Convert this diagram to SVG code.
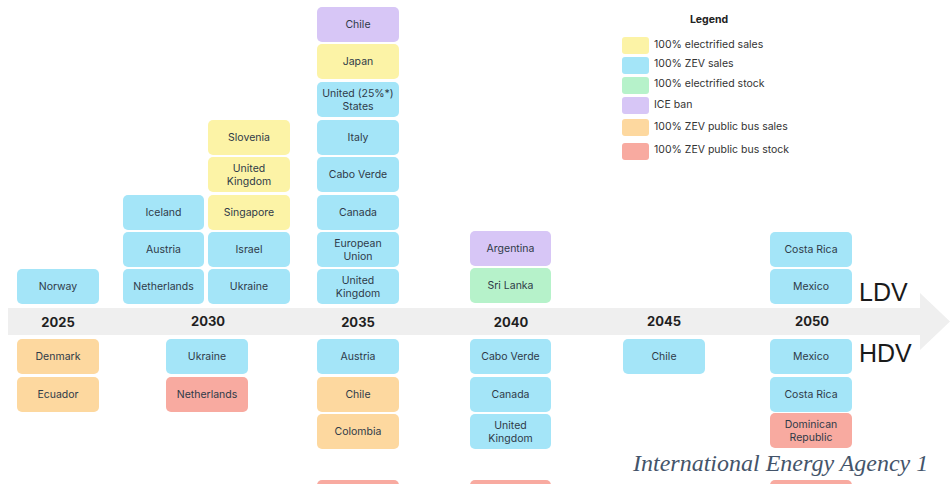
<svg xmlns="http://www.w3.org/2000/svg" width="952" height="484" viewBox="0 0 952 484">
<style>
.b{stroke:none}
.y{fill:#fcf3a6}.z{fill:#a4e5f8}.g{fill:#b6f2ca}.p{fill:#d7c6f6}.o{fill:#fdd89f}.s{fill:#f8aaa0}
text{font-family:Inter,"Noto Sans","Liberation Sans",sans-serif}
.t{font-size:10.5px;fill:#2f3a48;text-anchor:middle}
.yr{font-size:13px;font-weight:700;fill:#1f1f1f;text-anchor:middle}
.lg{font-size:10.5px;fill:#333}
.big{font-family:"Liberation Sans",Arial,sans-serif;font-size:25px;fill:#1a1a1a}
</style>
<rect width="952" height="484" fill="#ffffff"/>
<g id="axis">
<path d="M8 308 H920 V293 L950 321.5 L920 350 V335 H8 Z" fill="#efefef"/>
<text class="yr" x="58" y="327">2025</text>
<text class="yr" x="208" y="326">2030</text>
<text class="yr" x="358" y="327">2035</text>
<text class="yr" x="511" y="327">2040</text>
<text class="yr" x="664" y="326">2045</text>
<text class="yr" x="812" y="326">2050</text>
</g>
<g id="legend">
<text x="709" y="23" style="font-size:10.5px;font-weight:700;fill:#222;text-anchor:middle">Legend</text>
<rect class="y" x="622" y="37" width="27" height="17" rx="3"/><text class="lg" x="654" y="48">100% electrified sales</text>
<rect class="z" x="622" y="57" width="27" height="17" rx="3"/><text class="lg" x="654" y="67">100% ZEV sales</text>
<rect class="g" x="622" y="77" width="27" height="17" rx="3"/><text class="lg" x="654" y="87">100% electrified stock</text>
<rect class="p" x="622" y="97" width="27" height="17" rx="3"/><text class="lg" x="654" y="108">ICE ban</text>
<rect class="o" x="622" y="119" width="27" height="17" rx="3"/><text class="lg" x="654" y="130">100% ZEV public bus sales</text>
<rect class="s" x="622" y="143" width="27" height="17" rx="3"/><text class="lg" x="654" y="153">100% ZEV public bus stock</text>
</g>
<g id="ldv-2025-norway"><rect class="z" x="17" y="269" width="82" height="35" rx="5"/><text class="t" x="58" y="290">Norway</text></g>
<g id="ldv-2030-iceland"><rect class="z" x="123" y="195" width="81" height="35" rx="5"/><text class="t" x="163.5" y="216">Iceland</text></g>
<g id="ldv-2030-austria"><rect class="z" x="123" y="232" width="81" height="35" rx="5"/><text class="t" x="163.5" y="253">Austria</text></g>
<g id="ldv-2030-netherlands"><rect class="z" x="123" y="269" width="81" height="35" rx="5"/><text class="t" x="163.5" y="290">Netherlands</text></g>
<g id="ldv-2030-slovenia"><rect class="y" x="208" y="120" width="82" height="35" rx="5"/><text class="t" x="249" y="141">Slovenia</text></g>
<g id="ldv-2030-uk"><rect class="y" x="208" y="157" width="82" height="35" rx="5"/><text class="t" x="249" y="172">United</text><text class="t" x="249" y="185">Kingdom</text></g>
<g id="ldv-2030-singapore"><rect class="y" x="208" y="195" width="82" height="35" rx="5"/><text class="t" x="249" y="216">Singapore</text></g>
<g id="ldv-2030-israel"><rect class="z" x="208" y="232" width="82" height="35" rx="5"/><text class="t" x="249" y="253">Israel</text></g>
<g id="ldv-2030-ukraine"><rect class="z" x="208" y="269" width="82" height="35" rx="5"/><text class="t" x="249" y="290">Ukraine</text></g>
<g id="ldv-2035-chile"><rect class="p" x="317" y="7" width="82" height="35" rx="5"/><text class="t" x="358" y="28">Chile</text></g>
<g id="ldv-2035-japan"><rect class="y" x="317" y="44" width="82" height="35" rx="5"/><text class="t" x="358" y="65">Japan</text></g>
<g id="ldv-2035-us"><rect class="z" x="317" y="82" width="82" height="35" rx="5"/><text class="t" x="358" y="97">United (25%*)</text><text class="t" x="358" y="110">States</text></g>
<g id="ldv-2035-italy"><rect class="z" x="317" y="120" width="82" height="35" rx="5"/><text class="t" x="358" y="141">Italy</text></g>
<g id="ldv-2035-cabo-verde"><rect class="z" x="317" y="157" width="82" height="35" rx="5"/><text class="t" x="358" y="178">Cabo Verde</text></g>
<g id="ldv-2035-canada"><rect class="z" x="317" y="195" width="82" height="35" rx="5"/><text class="t" x="358" y="216">Canada</text></g>
<g id="ldv-2035-eu"><rect class="z" x="317" y="232" width="82" height="35" rx="5"/><text class="t" x="358" y="247">European</text><text class="t" x="358" y="260">Union</text></g>
<g id="ldv-2035-uk"><rect class="z" x="317" y="269" width="82" height="35" rx="5"/><text class="t" x="358" y="284">United</text><text class="t" x="358" y="297">Kingdom</text></g>
<g id="ldv-2040-argentina"><rect class="p" x="470" y="231" width="81" height="35" rx="5"/><text class="t" x="510.5" y="252">Argentina</text></g>
<g id="ldv-2040-sri-lanka"><rect class="g" x="470" y="268" width="81" height="35" rx="5"/><text class="t" x="510.5" y="289">Sri Lanka</text></g>
<g id="ldv-2050-costa-rica"><rect class="z" x="770" y="232" width="82" height="35" rx="5"/><text class="t" x="811" y="253">Costa Rica</text></g>
<g id="ldv-2050-mexico"><rect class="z" x="770" y="269" width="82" height="35" rx="5"/><text class="t" x="811" y="290">Mexico</text></g>
<g id="hdv-2025-denmark"><rect class="o" x="17" y="339" width="82" height="35" rx="5"/><text class="t" x="58" y="360">Denmark</text></g>
<g id="hdv-2025-ecuador"><rect class="o" x="17" y="377" width="82" height="35" rx="5"/><text class="t" x="58" y="398">Ecuador</text></g>
<g id="hdv-2030-ukraine"><rect class="z" x="166" y="339" width="82" height="35" rx="5"/><text class="t" x="207" y="360">Ukraine</text></g>
<g id="hdv-2030-netherlands"><rect class="s" x="166" y="377" width="82" height="35" rx="5"/><text class="t" x="207" y="398">Netherlands</text></g>
<g id="hdv-2035-austria"><rect class="z" x="317" y="339" width="82" height="35" rx="5"/><text class="t" x="358" y="360">Austria</text></g>
<g id="hdv-2035-chile"><rect class="o" x="317" y="377" width="82" height="35" rx="5"/><text class="t" x="358" y="398">Chile</text></g>
<g id="hdv-2035-colombia"><rect class="o" x="317" y="414" width="82" height="35" rx="5"/><text class="t" x="358" y="435">Colombia</text></g>
<g id="hdv-2035-bus-stock"><rect class="s" x="317" y="480" width="82" height="35" rx="5"/></g>
<g id="hdv-2040-cabo-verde"><rect class="z" x="470" y="339" width="81" height="35" rx="5"/><text class="t" x="510.5" y="360">Cabo Verde</text></g>
<g id="hdv-2040-canada"><rect class="z" x="470" y="377" width="81" height="35" rx="5"/><text class="t" x="510.5" y="398">Canada</text></g>
<g id="hdv-2040-uk"><rect class="z" x="470" y="414" width="81" height="35" rx="5"/><text class="t" x="510.5" y="429">United</text><text class="t" x="510.5" y="442">Kingdom</text></g>
<g id="hdv-2040-bus-stock"><rect class="s" x="470" y="480" width="81" height="35" rx="5"/></g>
<g id="hdv-2045-chile"><rect class="z" x="623" y="339" width="82" height="35" rx="5"/><text class="t" x="664" y="360">Chile</text></g>
<g id="hdv-2050-mexico"><rect class="z" x="770" y="339" width="82" height="35" rx="5"/><text class="t" x="811" y="360">Mexico</text></g>
<g id="hdv-2050-costa-rica"><rect class="z" x="770" y="377" width="82" height="35" rx="5"/><text class="t" x="811" y="398">Costa Rica</text></g>
<g id="hdv-2050-dominican"><rect class="s" x="770" y="413" width="82" height="35" rx="5"/><text class="t" x="811" y="428">Dominican</text><text class="t" x="811" y="441">Republic</text></g>
<g id="hdv-2050-bus-stock"><rect class="s" x="770" y="480" width="82" height="35" rx="5"/></g>
<g id="labels">
<text class="big" x="859" y="301">LDV</text>
<text class="big" x="859" y="362">HDV</text>
<text x="633" y="471" style="font-family:'Liberation Serif','Times New Roman',serif;font-style:italic;font-size:24px;fill:#44546a">International Energy Agency 1</text>
</g>
<g id="connectors"></g>
</svg>
